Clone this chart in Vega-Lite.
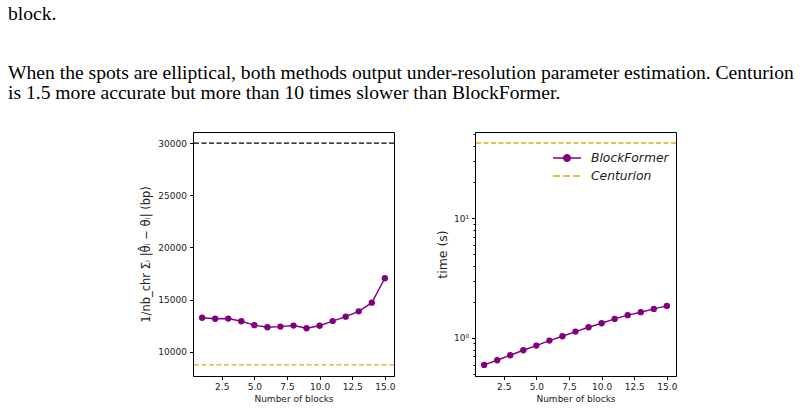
{
  "$schema": "https://vega.github.io/schema/vega-lite/v6.json",
  "background": "white",
  "padding": {"left": 8, "top": 4, "right": 5, "bottom": 5},
  "title": {
    "text": "block.",
    "subtitle": ["When the spots are elliptical, both methods output under-resolution parameter estimation. Centurion", "is 1.5 more accurate but more than 10 times slower than BlockFormer."],
    "anchor": "start",
    "frame": "group",
    "dx": -185,
    "offset": 28,
    "font": "Liberation Serif",
    "fontSize": 19.6,
    "fontWeight": "normal",
    "color": "black",
    "lineHeight": 20,
    "subtitleFont": "Liberation Serif",
    "subtitleFontSize": 19.6,
    "subtitleColor": "black",
    "subtitleLineHeight": 20,
    "subtitlePadding": 39
  },
  "config": {
    "view": {"stroke": "black", "strokeWidth": 1},
    "axis": {
      "labelFont": "DejaVu Sans",
      "labelFontSize": 9,
      "labelColor": "#222",
      "titleFont": "DejaVu Sans",
      "titleFontWeight": "normal",
      "titleColor": "#222",
      "domainColor": "black",
      "tickColor": "black",
      "tickSize": 3.5,
      "labelPadding": 3,
      "grid": false
    }
  },
  "hconcat": [
    {
      "width": 201,
      "height": 244,
      "layer": [
        {
          "data": {"values": [{"y": 30000}]},
          "mark": {"type": "rule", "color": "black", "strokeDash": [5, 2.5], "strokeWidth": 1.3},
          "encoding": {"y": {"field": "y", "type": "quantitative", "scale": {"domain": [7688, 31062], "nice": false, "zero": false}}}
        },
        {
          "data": {"values": [{"y": 8750}]},
          "mark": {"type": "rule", "color": "#E6A817", "strokeDash": [5, 2.5], "strokeWidth": 1.3},
          "encoding": {"y": {"field": "y", "type": "quantitative"}}
        },
        {
          "data": {"values": [
            {"blocks": 1, "err": 13270}, {"blocks": 2, "err": 13170}, {"blocks": 3, "err": 13190},
            {"blocks": 4, "err": 12930}, {"blocks": 5, "err": 12560}, {"blocks": 6, "err": 12360},
            {"blocks": 7, "err": 12420}, {"blocks": 8, "err": 12520}, {"blocks": 9, "err": 12260},
            {"blocks": 10, "err": 12500}, {"blocks": 11, "err": 12950}, {"blocks": 12, "err": 13370},
            {"blocks": 13, "err": 13880}, {"blocks": 14, "err": 14710}, {"blocks": 15, "err": 17050}
          ]},
          "layer": [
            {"mark": {"type": "line", "color": "#800080", "strokeWidth": 1.4}, "encoding": {}},
            {"mark": {"type": "point", "filled": true, "opacity": 1, "color": "#800080", "size": 40}, "encoding": {}}
          ],
          "encoding": {
            "x": {"field": "blocks", "type": "quantitative", "scale": {"domain": [0.3, 15.7], "nice": false, "zero": false},
                  "axis": {"values": [2.5, 5, 7.5, 10, 12.5, 15], "format": ".1f", "title": "Number of blocks", "titleFontSize": 9, "titlePadding": 3}},
            "y": {"field": "err", "type": "quantitative",
                  "axis": {"values": [10000, 15000, 20000, 25000, 30000], "format": "d", "title": "1/nb_chr Σᵢ |θ̂ᵢ − θᵢ| (bp)", "titleFontSize": 11.5, "titlePadding": 6}}
          }
        }
      ]
    },
    {
      "width": 201,
      "height": 244,
      "layer": [
        {
          "data": {"values": [{"method": "Centurion", "time": 42.4}]},
          "mark": {"type": "rule", "strokeDash": [5, 2.5], "strokeWidth": 1.3},
          "encoding": {
            "y": {"field": "time", "type": "quantitative", "scale": {"type": "log", "domain": [0.481, 52.4], "nice": false}},
            "color": {"field": "method", "type": "nominal",
                      "scale": {"domain": ["BlockFormer", "Centurion"], "range": ["#800080", "#E6A817"]},
                      "legend": {
                        "title": null,
                        "orient": "none",
                        "legendX": 81,
                        "legendY": 15,
                        "padding": 0,
                        "labelFont": "DejaVu Sans",
                        "labelFontStyle": "italic",
                        "labelFontSize": 12.3,
                        "labelColor": "#222",
                        "labelOffset": 13,
                        "rowPadding": 0,
                        "symbolSize": 400,
                        "encode": {
                          "symbols": {
                            "update": {
                              "shape": {"signal": "datum.value === 'BlockFormer' ? 'M-1.4,0L1.4,0M-0.33,0a0.33,0.33 0 1,0 0.66,0a0.33,0.33 0 1,0 -0.66,0' : 'M-1.4,0L-0.7,0M-0.4,0L0.3,0M0.6,0L1.3,0'"},
                              "fill": {"signal": "datum.value === 'BlockFormer' ? '#800080' : 'transparent'"},
                              "stroke": {"signal": "datum.value === 'BlockFormer' ? '#800080' : '#E6A817'"},
                              "strokeWidth": {"value": 1.4},
                              "strokeDash": {"value": [1, 0]},
                              "size": {"value": 400},
                              "opacity": {"value": 1}
                            }
                          }
                        }
                      }}
          }
        },
        {
          "data": {"values": [
            {"method": "BlockFormer", "blocks": 1, "time": 0.595}, {"method": "BlockFormer", "blocks": 2, "time": 0.651},
            {"method": "BlockFormer", "blocks": 3, "time": 0.717}, {"method": "BlockFormer", "blocks": 4, "time": 0.789},
            {"method": "BlockFormer", "blocks": 5, "time": 0.863}, {"method": "BlockFormer", "blocks": 6, "time": 0.95},
            {"method": "BlockFormer", "blocks": 7, "time": 1.033}, {"method": "BlockFormer", "blocks": 8, "time": 1.13},
            {"method": "BlockFormer", "blocks": 9, "time": 1.228}, {"method": "BlockFormer", "blocks": 10, "time": 1.326},
            {"method": "BlockFormer", "blocks": 11, "time": 1.442}, {"method": "BlockFormer", "blocks": 12, "time": 1.549},
            {"method": "BlockFormer", "blocks": 13, "time": 1.64}, {"method": "BlockFormer", "blocks": 14, "time": 1.747},
            {"method": "BlockFormer", "blocks": 15, "time": 1.85}
          ]},
          "layer": [
            {"mark": {"type": "line", "strokeWidth": 1.4}, "encoding": {"color": {"field": "method", "type": "nominal"}}},
            {"mark": {"type": "point", "filled": true, "opacity": 1, "color": "#800080", "size": 40}, "encoding": {}}
          ],
          "encoding": {
            "x": {"field": "blocks", "type": "quantitative", "scale": {"domain": [0.3, 15.7], "nice": false, "zero": false},
                  "axis": {"values": [2.5, 5, 7.5, 10, 12.5, 15], "format": ".1f", "title": "Number of blocks", "titleFontSize": 9, "titlePadding": 3}},
            "y": {"field": "time", "type": "quantitative",
                  "axis": {"values": [0.5, 0.6, 0.7, 0.8, 0.9, 1, 2, 3, 4, 5, 6, 7, 8, 9, 10, 20, 30, 40, 50],
                           "labelExpr": "datum.value == 1 ? '10⁰' : datum.value == 10 ? '10¹' : ''",
                           "tickSize": {"condition": {"test": "datum.value == 1 || datum.value == 10", "value": 3.5}, "value": 2},
                           "title": "time (s)", "titleFontSize": 12.5, "titlePadding": 4}}
          }
        }
      ],
      "resolve": {"scale": {"color": "shared"}}
    }
  ],
  "resolve": {"scale": {"color": "independent"}},
  "spacing": 81,
  "bounds": "flush"
}
